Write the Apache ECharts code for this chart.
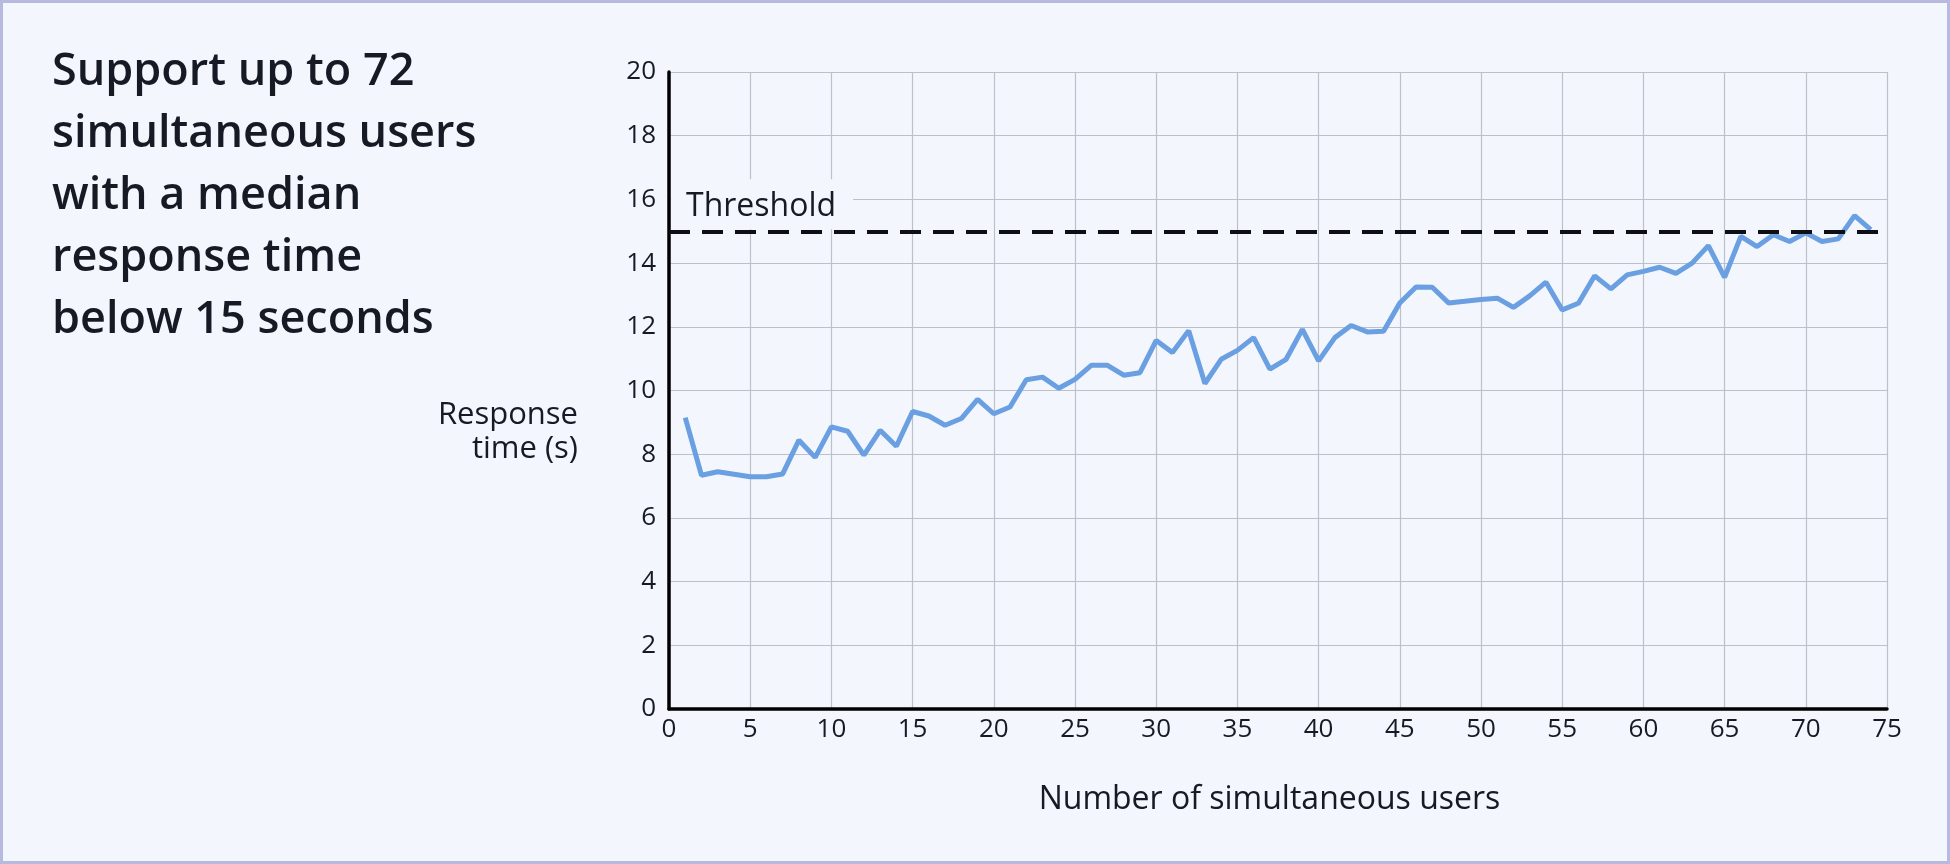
<!DOCTYPE html>
<html>
<head>
<meta charset="utf-8">
<script src="https://cdn.jsdelivr.net/npm/echarts@6/dist/echarts.min.js"></script>
<style>
    html, body { margin: 0; padding: 0; }
    #wrap { position: relative; width: 1950px; height: 864px; }
    #chart { width: 1950px; height: 864px; }
    #frame {
        position: absolute; left: 0; top: 0; width: 1950px; height: 864px;
        box-sizing: border-box; border: 3px solid #b8b9de; pointer-events: none;
    }
</style>
</head>
<body>
<div id="wrap">
    <div id="chart"></div>
    <div id="frame"></div>
</div>
<script>
// number of simultaneous users (x) and median response time in seconds (y)
const users = [];
for (let i = 1; i <= 74; i++) users.push(i);

const responseTime = [
    9.15, 7.34, 7.45, 7.37, 7.29, 7.29, 7.38, 8.44, 7.90, 8.86,
    8.72, 7.97, 8.75, 8.25, 9.34, 9.20, 8.91, 9.12, 9.72, 9.27,
    9.48, 10.34, 10.42, 10.07, 10.35, 10.79, 10.79, 10.48, 10.56, 11.57,
    11.19, 11.88, 10.22, 10.98, 11.26, 11.66, 10.67, 10.98, 11.92, 10.93,
    11.66, 12.04, 11.84, 11.86, 12.75, 13.25, 13.24, 12.75, 12.80, 12.86,
    12.90, 12.61, 12.97, 13.40, 12.53, 12.74, 13.60, 13.19, 13.63, 13.74,
    13.87, 13.68, 14.00, 14.55, 13.55, 14.84, 14.52, 14.89, 14.68, 14.95,
    14.68, 14.76, 15.49, 15.05
];

const threshold = 15;

const titleText = 'Support up to 72\nsimultaneous users\nwith a median\nresponse time\nbelow 15 seconds';
const xName = 'Number of simultaneous users';
const yName = 'Response\ntime (s)';

const bg = '#f3f7fd';
const ink = '#151a24';
const font = 'Open Sans';

const myChart = echarts.init(document.getElementById('chart'));

const points = users.map(function (u, i) {
    return [u, responseTime[i]];
});

myChart.setOption({
    backgroundColor: bg,
    animation: false,
    title: {
        text: titleText,
        left: 52,
        top: 41,
        padding: 0,
        textStyle: {
            fontFamily: font,
            fontSize: 45,
            fontWeight: 600,
            lineHeight: 62,
            color: ink
        }
    },
    grid: {
        left: 669,
        top: 72,
        width: 1218,
        height: 637
    },
    graphic: [{
        type: 'text',
        right: 1950 - 578,
        top: 398,
        style: {
            text: yName,
            font: '31px "' + font + '"',
            lineHeight: 34,
            textAlign: 'right',
            fill: ink
        }
    }],
    xAxis: {
        type: 'value',
        min: 0,
        max: 75,
        interval: 5,
        name: xName,
        nameLocation: 'middle',
        nameGap: 75,
        nameTextStyle: {
            fontFamily: font,
            fontSize: 32,
            color: ink,
            padding: [0, 17, 0, 0]
        },
        axisLine: {
            lineStyle: {color: '#000', width: 3.5}
        },
        axisTick: {show: false},
        axisLabel: {
            margin: 8,
            fontFamily: font,
            fontSize: 26,
            color: ink
        },
        splitLine: {
            show: true,
            lineStyle: {color: '#bcc0c8', width: 1.2}
        }
    },
    yAxis: {
        type: 'value',
        min: 0,
        max: 20,
        interval: 2,
        axisLine: {
            show: true,
            lineStyle: {color: '#000', width: 3.5}
        },
        axisTick: {show: false},
        axisLabel: {
            margin: 13,
            fontFamily: font,
            fontSize: 26,
            color: ink
        },
        splitLine: {
            show: true,
            lineStyle: {color: '#bcc0c8', width: 1.2}
        }
    },
    series: [{
        name: 'Response time',
        type: 'line',
        data: points,
        showSymbol: false,
        symbol: 'none',
        lineStyle: {color: '#6a9fe2', width: 5},
        z: 3,
        markLine: {
            silent: true,
            symbol: ['none', 'none'],
            lineStyle: {color: '#0d0f14', width: 4, type: [21, 12]},
            label: {
                show: true,
                position: 'insideStartTop',
                formatter: 'Threshold',
                fontFamily: font,
                fontSize: 32,
                color: ink,
                backgroundColor: bg,
                padding: [12, 17, 6, 15],
                distance: [2, 2]
            },
            data: [{yAxis: threshold}]
        }
    }]
});
</script>
</body>
</html>
